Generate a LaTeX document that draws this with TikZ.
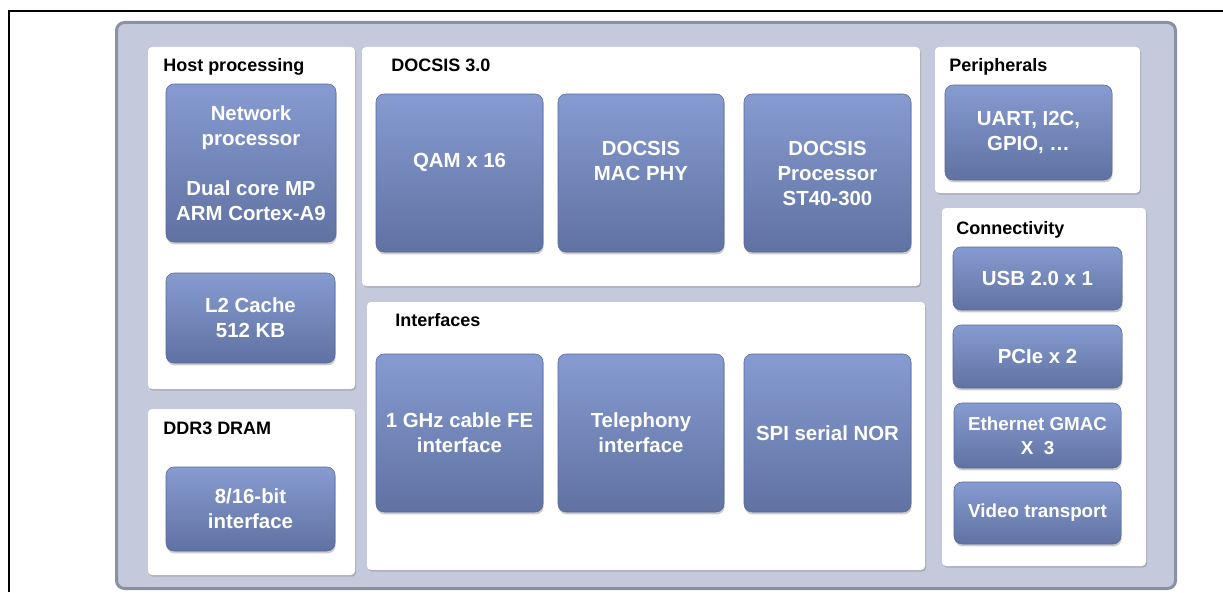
\documentclass[tikz,border=0pt]{standalone}
\usepackage{fontspec}
\setmainfont{Liberation Sans}
\usetikzlibrary{
	shadows,
}
\definecolor{boardfill}{RGB}{196,201,219}
\definecolor{boardedge}{RGB}{138,145,162}
\definecolor{chiptop}{RGB}{134,155,209}
\definecolor{chipbot}{RGB}{96,114,162}
\definecolor{chipedge}{RGB}{88,104,148}
\tikzset{
	px size/.style 2 args={
		minimum width=#1*0.75pt,
		minimum height=#2*0.75pt,
	},
	board/.style={
		draw=boardedge,
		line width=2.25pt,
		fill=boardfill,
		rounded corners=6pt,
		inner sep=0mm,
	},
	group panel/.style={
		fill=white,
		rounded corners=3pt,
		inner sep=0mm,
		drop shadow={shadow xshift=0.8pt, shadow yshift=-1.2pt, opacity=0.3, fill=black!60},
	},
	group title/.style={
		anchor=base west,
		inner sep=0mm,
		font=\bfseries\fontsize{13.5}{16}\selectfont,
		black,
	},
	chip box/.style={
		draw=chipedge,
		line width=0.4pt,
		top color=chiptop,
		bottom color=chipbot,
		rounded corners=6pt,
		inner sep=0mm,
		text=white,
		align=center,
		font=\bfseries\fontsize{15.3}{18.75}\selectfont,
		drop shadow={shadow xshift=0.5pt, shadow yshift=-1.8pt, opacity=0.4},
	},
	small chip/.style={
		chip box,
		font=\bfseries\fontsize{14.1}{18}\selectfont,
	},
}

\begin{document}
\begin{tikzpicture}[x=0.75pt, y=-0.75pt]
\useasboundingbox (0,0) rectangle (1223,592);

% frame
\draw[line width=1.5pt] (9,592) -- (9,11) -- (1223,11);

\node[board, px size={1059}{566}] (board) at (646,305.5) {};

% group panels
\node[group panel, px size={207}{342}] (host) at (251.5,218) {};
\node[group panel, px size={207}{166}] (ddr) at (251.5,492) {};
\node[group panel, px size={558}{239}] (docsis) at (641,166.5) {};
\node[group panel, px size={558}{268}] (intf) at (646,436) {};
\node[group panel, px size={205}{146}] (periph) at (1037.5,120) {};
\node[group panel, px size={204}{358}] (conn) at (1044,387) {};

\node[group title] (host-title) at (163,72) {Host processing};
\node[group title] (ddr-title) at (163,434) {DDR3 DRAM};
\node[group title] (docsis-title) at (391,71) {DOCSIS 3.0};
\node[group title] (intf-title) at (395,326) {Interfaces};
\node[group title] (periph-title) at (949,71) {Peripherals};
\node[group title] (conn-title) at (956,234) {Connectivity};

% host side
\node[chip box, px size={170}{158}] (netproc) at (251,163)
	{Network\\processor\\[18.75pt]Dual core MP\\ARM Cortex-A9};
\node[chip box, px size={169}{90}] (cache) at (250.5,318) {L2 Cache\\512 KB};
\node[chip box, px size={169}{84}] (dram) at (250.5,509) {8/16-bit\\interface};

% docsis and interfaces
\node[chip box, px size={167}{158}] (qam) at (459.5,173) {QAM x 16\\~};
\node[chip box, px size={166}{158}] (macphy) at (641,173) {DOCSIS\\MAC PHY\\~};
\node[chip box, px size={167}{158}] (dproc) at (827.5,173) {DOCSIS\\Processor\\ST40-300};
\node[chip box, px size={167}{158}] (cablefe) at (459.5,433) {1 GHz cable FE\\interface};
\node[chip box, px size={166}{158}] (phone) at (641,433) {Telephony\\interface};
\node[chip box, px size={167}{158}] (spi) at (827.5,433) {SPI serial NOR};

% right column
\node[chip box, px size={167}{95}] (uart) at (1028.5,132.5) {UART, I2C,\\GPIO, …};
\node[chip box, px size={169}{63}] (usb) at (1037.5,278.5) {USB 2.0 x 1};
\node[chip box, px size={169}{63}] (pcie) at (1037.5,356.5) {PCIe x 2};
\node[small chip, px size={167}{65}] (gmac) at (1037.5,435.5) {Ethernet GMAC\\X~~3};
\node[small chip, px size={167}{62}] (video) at (1037.5,513) {Video transport};

\end{tikzpicture}
\end{document}
